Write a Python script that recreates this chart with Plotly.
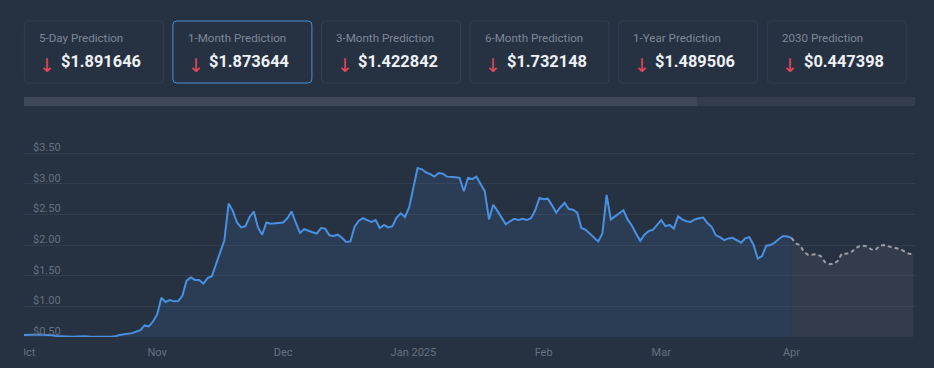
import pandas as pd
import plotly.graph_objects as go

# ---------------- data ----------------
hist_start = "2024-09-30"
hist_prices = [
    0.53,
    # Oct
    0.535, 0.54, 0.543, 0.538, 0.533, 0.533, 0.525, 0.515, 0.51, 0.503,
    0.50, 0.503, 0.507, 0.51, 0.508, 0.503, 0.50, 0.503, 0.505, 0.502,
    0.50, 0.508, 0.53, 0.54, 0.543, 0.56, 0.585, 0.61, 0.686, 0.67, 0.75,
    # Nov
    0.866, 1.14, 1.07, 1.10, 1.08, 1.085, 1.17, 1.42, 1.47, 1.43,
    1.43, 1.37, 1.46, 1.49, 1.69, 1.88, 2.08, 2.68, 2.56, 2.37,
    2.29, 2.31, 2.46, 2.55, 2.29, 2.17, 2.37, 2.35, 2.36, 2.36,
    # Dec
    2.37, 2.44, 2.55, 2.37, 2.20, 2.26, 2.23, 2.21, 2.19, 2.28,
    2.27, 2.16, 2.15, 2.17, 2.12, 2.05, 2.06, 2.30, 2.40, 2.44,
    2.41, 2.38, 2.41, 2.28, 2.33, 2.29, 2.31, 2.45, 2.52, 2.46, 2.62,
    # Jan
    2.93, 3.26, 3.24, 3.19, 3.16, 3.12, 3.18, 3.17, 3.12, 3.12,
    3.11, 3.10, 2.88, 3.10, 3.08, 3.12, 3.01, 2.88, 2.42, 2.66,
    2.56, 2.44, 2.34, 2.39, 2.43, 2.41, 2.43, 2.41, 2.44, 2.57, 2.77,
    # Feb
    2.75, 2.76, 2.65, 2.53, 2.62, 2.69, 2.59, 2.58, 2.53, 2.28,
    2.25, 2.19, 2.12, 2.06, 2.19, 2.82, 2.42, 2.47, 2.51, 2.57,
    2.42, 2.32, 2.19, 2.07, 2.17, 2.23, 2.25, 2.34,
    # Mar
    2.41, 2.31, 2.33, 2.27, 2.47, 2.42, 2.39, 2.38, 2.42, 2.44,
    2.45, 2.36, 2.30, 2.16, 2.13, 2.08, 2.11, 2.12, 2.08, 2.04,
    2.11, 2.13, 2.00, 1.78, 1.82, 1.99, 2.00, 2.04, 2.10, 2.15, 2.14,
    # Apr 1
    2.12,
]

fc_start = "2025-04-01"
fc_prices = [
    2.12, 2.03, 2.00, 1.89, 1.84, 1.84, 1.85, 1.82, 1.72, 1.69,
    1.69, 1.74, 1.86, 1.86, 1.87, 1.93, 1.98, 1.99, 1.98, 1.93,
    1.92, 1.99, 2.00, 1.98, 1.97, 1.95, 1.93, 1.90, 1.86, 1.85,
]

x_tick_dates = ["2024-10-01", "2024-11-01", "2024-12-01", "2025-01-01",
                "2025-02-01", "2025-03-01", "2025-04-01"]
x_tick_labels = ["Oct", "Nov", "Dec", "Jan 2025", "Feb", "Mar", "Apr"]
y_tick_vals = [0.5, 1.0, 1.5, 2.0, 2.5, 3.0, 3.5]
y_tick_labels = ["$0.50", "$1.00", "$1.50", "$2.00", "$2.50", "$3.00", "$3.50"]
x_range = ["2024-09-30 07:00", "2025-04-30 10:00"]
y_range = [0.497, 3.752]

card_titles = ["5-Day Prediction", "1-Month Prediction", "3-Month Prediction",
               "6-Month Prediction", "1-Year Prediction", "2030 Prediction"]
card_values = ["$1.891646", "$1.873644", "$1.422842",
               "$1.732148", "$1.489506", "$0.447398"]
active_card = 1

# ---------------- style ----------------
BG = "rgb(38,49,66)"
LINE_BLUE = "#4a90e2"
TICK_COL = "#66717f"
W, H = 934, 368
PL, PR, PT, PB = 24, 915, 138, 337
FONT = "Roboto, 'DejaVu Sans', sans-serif"


def xp(px):
    return (px - PL) / (PR - PL)


def yp(py):
    return (PB - py) / (PB - PT)


def rrect(x0, y0, x1, y1, r):
    X, Y = xp, yp
    return (f"M {X(x0 + r)},{Y(y0)} L {X(x1 - r)},{Y(y0)} "
            f"Q {X(x1)},{Y(y0)} {X(x1)},{Y(y0 + r)} L {X(x1)},{Y(y1 - r)} "
            f"Q {X(x1)},{Y(y1)} {X(x1 - r)},{Y(y1)} L {X(x0 + r)},{Y(y1)} "
            f"Q {X(x0)},{Y(y1)} {X(x0)},{Y(y1 - r)} L {X(x0)},{Y(y0 + r)} "
            f"Q {X(x0)},{Y(y0)} {X(x0 + r)},{Y(y0)} Z")


hist_dates = pd.date_range(hist_start, periods=len(hist_prices), freq="D")
fc_dates = pd.date_range(fc_start, periods=len(fc_prices), freq="D")

fig = go.Figure()
fig.add_trace(go.Scatter(
    x=hist_dates, y=hist_prices, mode="lines",
    line=dict(color=LINE_BLUE, width=2),
    fill="tozeroy", fillcolor="rgba(74,144,226,0.12)",
    hoverinfo="skip", showlegend=False,
))
fig.add_trace(go.Scatter(
    x=fc_dates, y=fc_prices, mode="lines",
    line=dict(color="#9a9ea6", width=2, dash="4px,3px"),
    fill="tozeroy", fillcolor="rgba(128,128,128,0.15)",
    hoverinfo="skip", showlegend=False,
))

shapes = []
annotations = []

# prediction cards
card_w, card_step = 139, 148.6
for i, (t, v) in enumerate(zip(card_titles, card_values)):
    x0 = 24.3 + i * card_step
    x1 = x0 + card_w
    active = (i == active_card)
    shapes.append(dict(
        type="path", xref="paper", yref="paper", path=rrect(x0, 21, x1, 83, 4),
        line=dict(color="#4a8fd6" if active else "rgb(52,63,79)", width=1),
        fillcolor=BG, layer="above",
    ))
    annotations.append(dict(
        x=xp(x0 + 12.7), y=yp(38), xref="paper", yref="paper",
        text=t, showarrow=False, xanchor="left", yanchor="middle",
        font=dict(family=FONT, size=11.6, color="#7e8896"),
    ))
    annotations.append(dict(
        x=xp(x0 + 23), y=yp(65.5), xref="paper", yref="paper",
        text="↓", showarrow=False, xanchor="center", yanchor="middle",
        font=dict(family=FONT, size=19, color="#e2475c"),
    ))
    annotations.append(dict(
        x=xp(x0 + 34.5), y=yp(62), xref="paper", yref="paper",
        text=f"<b>{v}</b>", showarrow=False, xanchor="left", yanchor="middle",
        font=dict(family=FONT, size=16.4, color="#eef1f5"),
    ))

# scroll bar
shapes.append(dict(type="rect", xref="paper", yref="paper",
                   x0=xp(24), x1=xp(915), y0=yp(106), y1=yp(97),
                   line=dict(width=0), fillcolor="rgb(51,61,77)", layer="above"))
shapes.append(dict(type="rect", xref="paper", yref="paper",
                   x0=xp(24), x1=xp(697), y0=yp(106), y1=yp(97),
                   line=dict(width=0), fillcolor="rgb(62,72,88)", layer="above"))
# clip the first tick label at the plot's left edge
shapes.append(dict(type="rect", xref="paper", yref="paper",
                   x0=xp(0), x1=xp(24), y0=yp(366), y1=yp(340),
                   line=dict(width=0), fillcolor=BG, layer="above"))

fig.update_layout(
    width=W, height=H,
    margin=dict(l=PL, r=W - PR, t=PT, b=H - PB, autoexpand=False),
    paper_bgcolor=BG, plot_bgcolor=BG,
    font=dict(family=FONT, color=TICK_COL, size=11),
    shapes=shapes, annotations=annotations,
    xaxis=dict(
        type="date", range=x_range, automargin=False,
        tickvals=x_tick_dates, ticktext=x_tick_labels,
        showgrid=False, zeroline=False, showline=False, ticks="",
        ticklabeloverflow="allow", ticklabelstandoff=7,
        tickfont=dict(family=FONT, size=11, color=TICK_COL),
        fixedrange=True,
    ),
    yaxis=dict(
        range=y_range, tickvals=y_tick_vals, ticktext=y_tick_labels,
        automargin=False,
        showgrid=True, gridcolor="rgba(255,255,255,0.06)", gridwidth=1,
        zeroline=False, showline=False, ticks="",
        ticklabelposition="inside", ticklabelshift=-6, ticklabelstandoff=6,
        ticklabeloverflow="allow",
        tickfont=dict(family=FONT, size=11, color=TICK_COL),
        fixedrange=True,
    ),
)

fig.write_html(
    "out.html",
    config={"displayModeBar": False},
    post_script="document.body.style.margin='0';document.body.style.overflow='hidden';",
)
